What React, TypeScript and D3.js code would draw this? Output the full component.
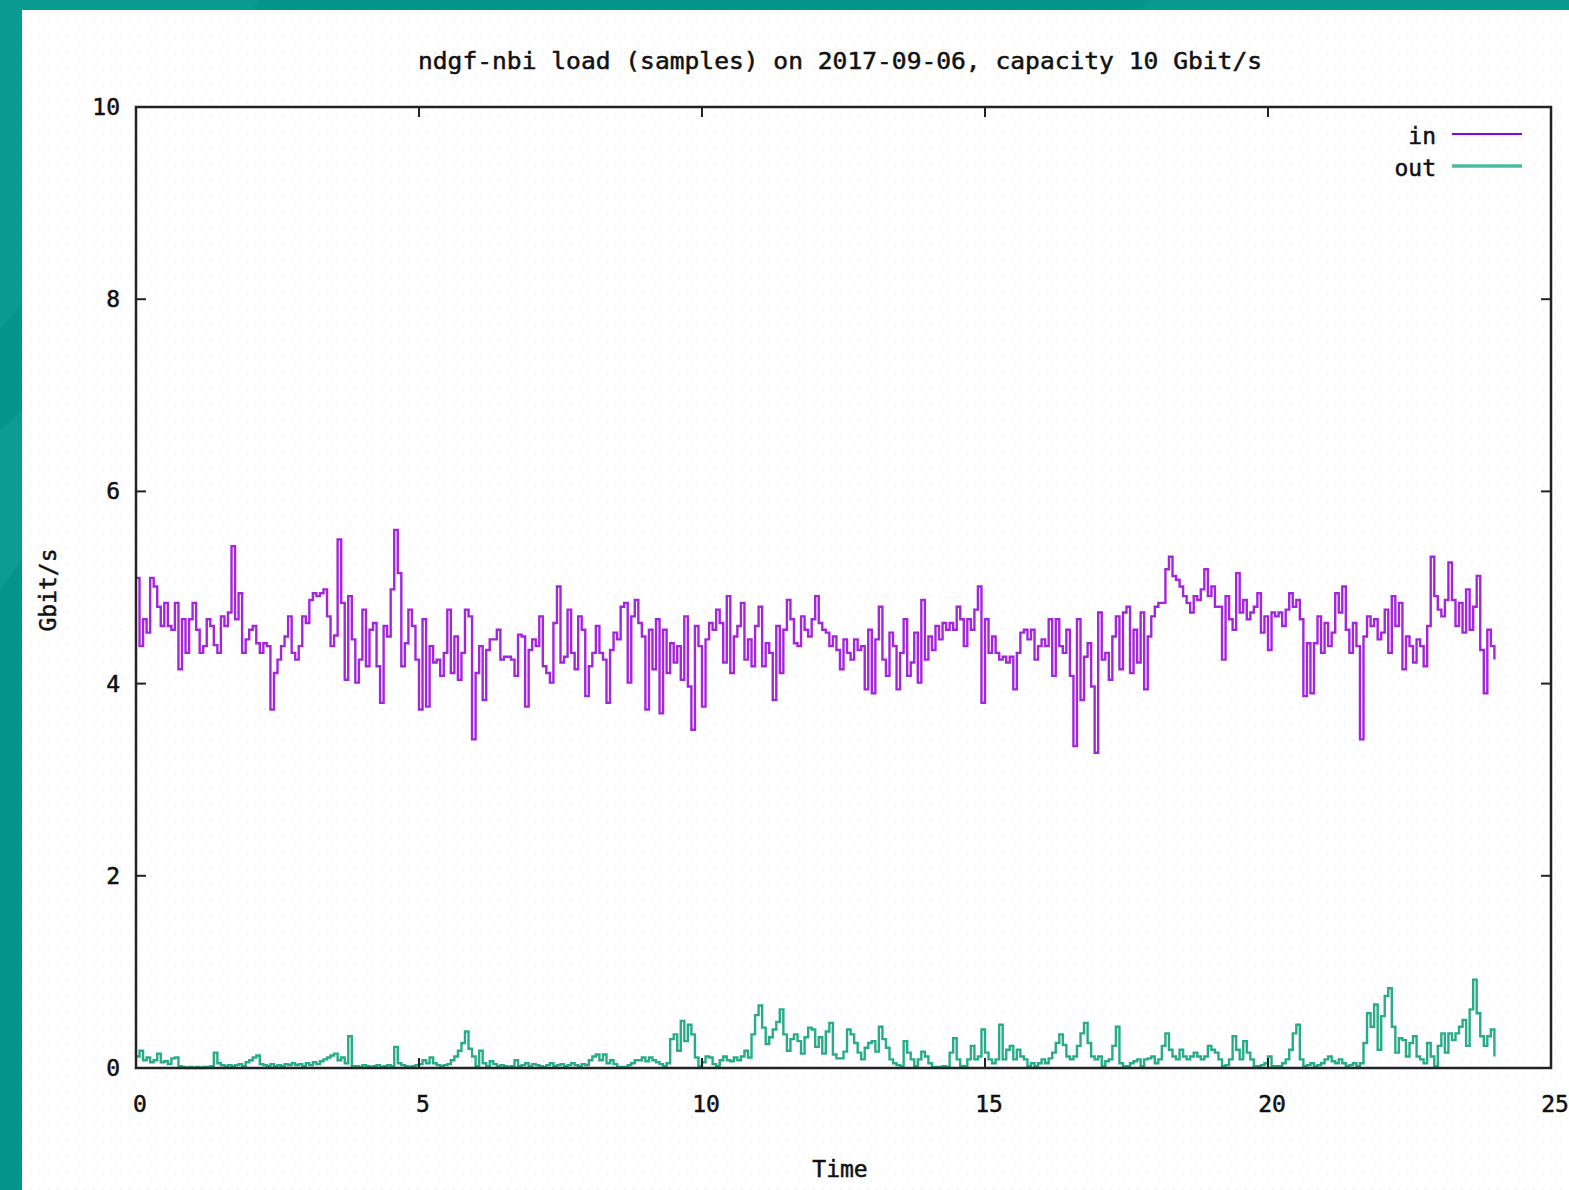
import React, { useEffect } from 'react';
import * as d3 from 'd3';

// samples every 3.75 min (0.0625 h) across the day
const SAMPLE_STEP_H = 0.0625;

const inGbps = [
  5.10,4.39,4.67,4.53,5.10,5.01,4.80,4.60,4.84,4.60,
  4.56,4.84,4.15,4.67,4.32,4.67,4.84,4.56,4.32,4.39,
  4.67,4.60,4.40,4.32,4.70,4.60,4.74,5.43,4.67,4.94,
  4.32,4.46,4.56,4.60,4.42,4.32,4.42,4.39,3.73,4.11,
  4.25,4.39,4.49,4.70,4.32,4.25,4.39,4.70,4.63,4.87,
  4.94,4.91,4.94,4.98,4.70,4.39,4.50,5.50,4.84,4.04,
  4.91,4.46,4.01,4.25,4.77,4.18,4.56,4.63,4.18,3.80,
  4.60,4.49,4.98,5.60,5.15,4.18,4.42,4.77,4.60,4.25,
  3.73,4.67,3.76,4.39,4.22,4.25,4.08,4.32,4.77,4.11,
  4.49,4.04,4.32,4.77,4.70,3.42,4.11,4.39,3.83,4.35,
  4.46,4.46,
  4.56,4.25,4.28,4.28,4.25,4.08,4.51,4.49,3.76,4.35,
  4.46,4.39,4.70,4.18,4.11,4.01,4.63,5.01,4.22,4.28,
  4.77,4.32,4.15,4.70,4.56,3.87,4.18,4.32,4.60,4.32,
  4.25,3.80,4.35,4.53,4.46,4.80,4.84,4.01,4.70,4.87,
  4.63,4.49,3.73,4.56,4.15,4.67,3.69,4.56,4.11,4.42,
  4.22,4.39,4.04,4.70,3.97,3.52,4.60,4.39,3.76,4.46,
  4.63,4.56,4.77,4.63,4.22,4.91,4.11,4.49,4.60,4.84,
  4.25,4.46,4.18,4.60,4.80,4.18,4.42,4.32,3.83,4.60,
  4.11,4.56,4.87,4.67,4.42,4.39,4.70,4.56,4.49,4.67,
  4.91,4.63,4.56,4.53,4.39,4.49,4.35,4.15,4.46,4.32,
  4.25,
  4.46,4.35,4.39,3.94,4.56,3.90,4.46,4.80,4.25,4.08,
  4.53,4.39,3.94,4.32,4.67,4.08,4.22,4.53,4.01,4.87,
  4.25,4.49,4.35,4.60,4.46,4.63,4.56,4.63,4.56,4.80,
  4.67,4.39,4.67,4.56,4.77,5.01,3.80,4.67,4.32,4.49,
  4.32,4.25,4.28,4.22,4.28,3.94,4.32,4.53,4.56,4.46,
  4.56,4.25,4.39,4.46,4.39,4.67,4.08,4.67,4.39,4.32,
  4.56,4.08,3.35,4.67,3.83,4.28,4.42,3.97,3.28,4.74,
  4.25,4.32,4.04,4.49,4.70,4.15,4.74,4.80,4.11,4.56,
  4.22,4.74,3.94,4.49,4.70,4.80,4.84,4.84,5.19,5.32,
  5.12,5.08,5.01,4.91,4.84,4.74,4.91,4.87,4.98,5.19,
  4.91,5.01,4.80,4.80,4.25,4.91,4.67,4.56,5.15,4.74,
  4.87,4.67,4.74,4.80,4.94,4.53,4.70,4.35,4.74,4.70,
  4.74,4.60,4.77,4.94,4.80,4.87,4.67,3.87,4.42,3.90,
  4.42,4.70,4.32,4.63,4.39,4.53,4.94,4.74,5.01,4.56,
  4.32,4.63,4.39,3.42,4.49,4.70,4.60,4.67,4.46,4.53,
  4.77,4.32,4.91,4.60,4.84,4.15,4.49,4.39,4.22,4.46,
  4.39,4.18,4.60,5.32,4.91,4.77,4.70,4.87,5.26,4.87,
  4.60,4.84,4.53,4.98,4.56,4.80,5.12,4.35,3.90,4.56,
  4.39,4.25,
];

const outGbps = [
  0.12,0.18,0.08,0.11,0.06,0.08,0.15,0.06,0.07,0.04,
  0.10,0.11,0.02,0.01,0.00,0.01,0.00,0.01,0.00,0.01,
  0.01,0.02,0.16,0.05,0.03,0.02,0.03,0.02,0.03,0.04,
  0.02,0.06,0.08,0.11,0.13,0.04,0.03,0.02,0.04,0.02,
  0.03,0.02,0.04,0.03,0.05,0.03,0.04,0.02,0.05,0.03,
  0.06,0.04,0.07,0.09,0.11,0.13,0.15,0.08,0.11,0.05,
  0.33,0.02,0.02,0.01,0.03,0.02,0.01,0.02,0.03,0.01,
  0.02,0.03,0.02,0.22,0.05,0.03,0.02,0.01,0.02,0.03,
  0.04,0.08,0.05,0.11,0.05,0.03,0.02,0.03,0.04,0.08,
  0.12,0.18,0.26,0.38,0.20,0.12,0.02,0.18,0.05,0.02,
  0.07,0.04,0.02,0.03,0.02,0.01,0.02,0.08,0.02,0.03,
  0.05,0.02,0.04,0.03,0.02,0.01,0.03,0.05,0.02,0.03,
  0.04,0.02,0.03,0.05,0.03,0.02,0.04,0.03,0.08,0.12,
  0.14,0.08,0.14,0.05,0.08,0.04,0.01,0.01,0.01,0.03,
  0.05,0.08,0.08,0.11,0.07,0.11,0.08,0.06,0.04,0.02,
  0.05,0.30,0.35,0.18,0.49,0.28,0.45,0.35,0.11,0.02,
  0.06,0.12,0.11,0.04,0.02,0.08,0.12,0.08,0.07,0.11,
  0.08,0.12,0.18,0.11,0.35,0.55,0.65,0.42,0.25,0.32,
  0.40,0.48,0.61,0.35,0.18,0.30,0.35,0.28,0.15,0.32,
  0.42,0.40,0.22,0.32,0.15,0.38,0.47,0.14,0.10,0.10,
  0.17,0.40,0.35,0.26,0.16,0.09,0.21,0.26,0.28,0.17,
  0.43,0.30,0.21,0.09,0.05,0.03,0.02,0.28,0.16,0.09,
  0.02,0.09,0.17,0.12,0.05,0.01,0.01,0.01,0.02,0.01,
  0.16,0.31,0.09,0.02,0.02,0.09,0.23,0.09,0.12,0.40,
  0.16,0.09,0.05,0.09,0.45,0.09,0.19,0.23,0.09,0.19,
  0.12,0.09,0.02,0.05,0.02,0.05,0.09,0.05,0.10,0.16,
  0.26,0.35,0.24,0.12,0.09,0.12,0.23,0.36,0.47,0.26,
  0.12,0.09,0.12,0.02,0.07,0.09,0.23,0.43,0.05,0.02,
  0.02,0.05,0.07,0.09,0.02,0.09,0.10,0.12,0.05,0.09,
  0.23,0.36,0.19,0.12,0.09,0.19,0.12,0.09,0.12,0.16,
  0.12,0.09,0.12,0.23,0.19,0.16,0.09,0.02,0.03,0.09,
  0.33,0.19,0.09,0.28,0.16,0.09,0.02,0.02,0.03,0.05,
  0.12,0.02,0.02,0.02,0.05,0.09,0.19,0.36,0.45,0.09,
  0.02,0.03,0.05,0.02,0.03,0.05,0.09,0.12,0.07,0.05,
  0.09,0.05,0.02,0.03,0.05,0.02,0.05,0.26,0.57,0.43,
  0.66,0.19,0.54,0.75,0.83,0.43,0.16,0.31,0.29,0.12,
  0.26,0.33,0.12,0.09,0.05,0.26,0.12,0.02,0.23,0.36,
  0.16,0.36,0.29,0.36,0.43,0.50,0.23,0.61,0.92,0.57,
  0.33,0.23,0.33,0.40,0.12,
];

const xTicks = [0, 5, 10, 15, 20, 25];
const yTicks = [0, 2, 4, 6, 8, 10];
const seriesNames = ['in', 'out'];
const seriesColors = ['#9400d3', '#009e73'];

const W = 1569;
const H = 1190;
const margin = { left: 136, right: 18, top: 107, bottom: 122 };
const FONT = '"DejaVu Sans Mono", "Liberation Mono", monospace';

export default function App() {
  useEffect(() => {
    document.body.style.margin = '0';
  }, []);

  const x = d3.scaleLinear().domain([0, 25]).range([margin.left, W - margin.right]);
  const y = d3.scaleLinear().domain([0, 10]).range([H - margin.bottom, margin.top]);

  const line = d3.line<number>()
    .x((_, i) => x(i * SAMPLE_STEP_H))
    .y(d => y(d))
    .curve(d3.curveStepAfter);

  const series = [inGbps, outGbps];
  const x0 = x.range()[0], x1 = x.range()[1];
  const y0 = y.range()[0], y1 = y.range()[1];
  const tickLen = 10;
  const txt = { fontSize: 23, fill: '#111', stroke: '#111', strokeWidth: 0.5 };

  return (
    <svg width={W} height={H} style={{ display: 'block' }} fontFamily={FONT}>
      <defs>
        <pattern id="dots" width="18" height="16" patternUnits="userSpaceOnUse">
          <rect x="3" y="4" width="1.5" height="1.5" fill="#e9e9e9" />
          <rect x="12" y="4" width="1.5" height="1.5" fill="#ededed" />
          <rect x="7" y="12" width="1.5" height="1.5" fill="#ececec" />
        </pattern>
      </defs>
      <rect x={0} y={0} width={W} height={H} fill="#03958a" />
      <polygon points="0,0 260,0 60,260 0,330" fill="#0fa194" opacity={0.55} />
      <polygon points="0,430 22,410 22,560 0,590" fill="#15a497" opacity={0.5} />
      <polygon points="1150,0 1569,0 1569,10 1140,10" fill="#10a093" opacity={0.5} />
      <rect x={22} y={10} width={W - 22} height={H - 10} fill="#ffffff" />
      <rect x={22} y={10} width={W - 22} height={H - 10} fill="url(#dots)" />

      {/* title */}
      <text x={840} y={69} textAnchor="middle" {...txt}
        textLength={844} lengthAdjust="spacingAndGlyphs">
        ndgf-nbi load (samples) on 2017-09-06, capacity 10 Gbit/s
      </text>

      {/* series */}
      <g>
        {series.map((s, i) => (
          <path key={seriesNames[i]} d={line(s) || ''} fill="none"
            stroke={seriesColors[i]} strokeWidth={2.4} strokeOpacity={0.85} />
        ))}
      </g>

      {/* frame */}
      <rect x={x0} y={y1} width={x1 - x0} height={y0 - y1} fill="none" stroke="#222" strokeWidth={2.5} />

      {/* y ticks, mirrored */}
      {yTicks.map(t => (
        <g key={'y' + t}>
          <line x1={x0} x2={x0 + tickLen} y1={y(t)} y2={y(t)} stroke="#222" strokeWidth={2} />
          <line x1={x1} x2={x1 - tickLen} y1={y(t)} y2={y(t)} stroke="#222" strokeWidth={2} />
          <text x={120} y={y(t) + 8} textAnchor="end" {...txt}>{t}</text>
        </g>
      ))}

      {/* x ticks, mirrored */}
      {xTicks.map(t => (
        <g key={'x' + t}>
          <line x1={x(t)} x2={x(t)} y1={y0} y2={y0 - tickLen} stroke="#222" strokeWidth={2} />
          <line x1={x(t)} x2={x(t)} y1={y1} y2={y1 + tickLen} stroke="#222" strokeWidth={2} />
          <text x={x(t) + 4} y={1112} textAnchor="middle" {...txt}>{t}</text>
        </g>
      ))}

      {/* axis labels */}
      <text x={840} y={1177} textAnchor="middle" {...txt}>Time</text>
      <text transform="translate(56,590) rotate(-90)" textAnchor="middle" {...txt}>Gbit/s</text>

      {/* legend */}
      {seriesNames.map((n, i) => (
        <g key={'leg' + n}>
          <text x={1436} y={144 + i * 32} textAnchor="end" {...txt}>{n}</text>
          <line x1={1452} x2={1522} y1={134 + i * 32} y2={134 + i * 32}
            stroke={seriesColors[i]} strokeWidth={i === 0 ? 2 : 3.5} strokeOpacity={i === 0 ? 1 : 0.7} />
        </g>
      ))}
    </svg>
  );
}
